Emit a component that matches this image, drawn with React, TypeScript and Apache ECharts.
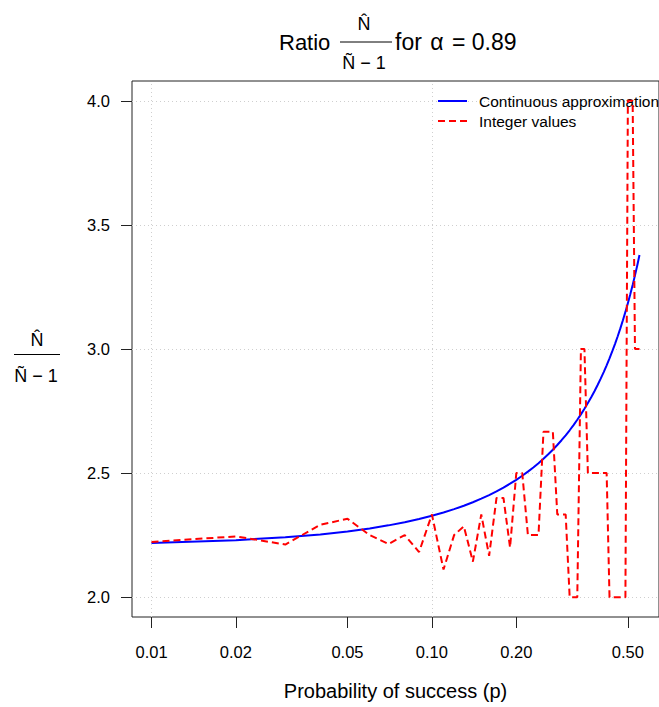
import React, { useEffect, useRef } from "react";
import * as echarts from "echarts";

// Probability of success (x, log scale)
const pValues = [
  0.01, 0.02, 0.03, 0.04, 0.05, 0.06, 0.07, 0.08, 0.09, 0.1,
  0.11, 0.12, 0.13, 0.14, 0.15, 0.16, 0.17, 0.18, 0.19, 0.2,
  0.21, 0.22, 0.23, 0.24, 0.25, 0.26, 0.27, 0.28, 0.29, 0.3,
  0.31, 0.32, 0.33, 0.34, 0.35, 0.36, 0.37, 0.38, 0.39, 0.4,
  0.41, 0.42, 0.43, 0.44, 0.45, 0.46, 0.47, 0.48, 0.49, 0.5,
  0.51, 0.52, 0.53, 0.54, 0.55,
];

// Continuous approximation (blue)
const continuousRatio = [
  2.2184, 2.2297, 2.2412, 2.2529, 2.2649, 2.277, 2.2893, 2.3019, 2.3147, 2.3277,
  2.341, 2.3546, 2.3684, 2.3824, 2.3968, 2.4114, 2.4263, 2.4416, 2.4571, 2.4729,
  2.4891, 2.5057, 2.5226, 2.5399, 2.5575, 2.5756, 2.5941, 2.613, 2.6324, 2.6522,
  2.6725, 2.6933, 2.7147, 2.7366, 2.759, 2.782, 2.8057, 2.83, 2.855, 2.8806,
  2.9071, 2.9343, 2.9623, 2.9911, 3.0208, 3.0515, 3.0831, 3.1158, 3.1495, 3.1844,
  3.2205, 3.2579, 3.2967, 3.3368, 3.3785,
];

// Integer values (red dashed)
const integerRatio = [
  2.2222, 2.2449, 2.2121, 2.2917, 2.3158, 2.25, 2.2143, 2.25, 2.1818, 2.3333,
  2.1111, 2.25, 2.2857, 2.1429, 2.3333, 2.1667, 2.4, 2.4, 2.2, 2.5,
  2.5, 2.25, 2.25, 2.25, 2.6667, 2.6667, 2.6667, 2.3333, 2.3333, 2.3333,
  2.0, 2.0, 2.0, 3.0, 3.0, 2.5, 2.5, 2.5, 2.5, 2.5,
  2.5, 2.5, 2.0, 2.0, 2.0, 2.0, 2.0, 2.0, 2.0, 4.0,
  4.0, 4.0, 3.0, 3.0, 3.0,
];

const xTickValues = [0.01, 0.02, 0.05, 0.1, 0.2, 0.5];
const xTickLabels = ["0.01", "0.02", "0.05", "0.10", "0.20", "0.50"];
const xGridValues = [0.01, 0.1];
const yTickValues = [2.0, 2.5, 3.0, 3.5, 4.0];
const yTickLabels = ["2.0", "2.5", "3.0", "3.5", "4.0"];

const seriesNames = ["Continuous approximation", "Integer values"];

const FONT = "'Liberation Sans', Arial, sans-serif";

export default function App() {
  const ref = useRef<HTMLDivElement>(null);

  useEffect(() => {
    if (!ref.current) return;
    const chart = echarts.init(ref.current, undefined, { renderer: "svg" });

    const lx = pValues.map((p) => Math.log10(p));
    const dataMin = Math.min(...lx);
    const dataMax = Math.max(...lx);
    const pad = (dataMax - dataMin) * 0.04;
    const yMin = 2.0 - 0.08;
    const yMax = 4.0 + 0.08;

    const xTickLog = xTickValues.map((v) => Math.log10(v));

    const nearestLabel = (v: number, vals: number[], labels: string[]) => {
      let best = 0;
      for (let i = 1; i < vals.length; i++) {
        if (Math.abs(vals[i] - v) < Math.abs(vals[best] - v)) best = i;
      }
      return labels[best];
    };

    const gridLineStyle = { color: "#cfcfcf", width: 1, type: [1, 3] as any };

    const option: any = {
      animation: false,
      backgroundColor: "#ffffff",
      textStyle: { fontFamily: FONT },
      grid: {
        left: 132,
        top: 81,
        right: -6,
        bottom: 90,
        show: true,
        borderColor: "#222222",
        borderWidth: 1,
        backgroundColor: "transparent",
      },
      legend: {
        data: seriesNames,
        orient: "vertical",
        left: 437,
        top: 91,
        padding: 0,
        itemGap: 0,
        itemWidth: 29,
        itemHeight: 12,
        itemStyle: { opacity: 0 },
        textStyle: {
          fontFamily: FONT,
          fontSize: 15.5,
          color: "#000000",
          lineHeight: 20,
          padding: [0, 0, 0, 7],
        },
      },
      xAxis: {
        type: "value",
        min: dataMin - pad,
        max: dataMax + pad,
        axisLine: { show: false, onZero: false },
        axisTick: {
          show: true,
          length: 11,
          customValues: xTickLog,
          lineStyle: { color: "#222222", width: 1 },
        },
        axisLabel: {
          customValues: xTickLog,
          margin: 26,
          fontSize: 16.5,
          fontFamily: FONT,
          color: "#000000",
          formatter: (v: number) => nearestLabel(v, xTickLog, xTickLabels),
        },
        splitLine: { show: false },
        name: "Probability of success (p)",
        nameLocation: "middle",
        nameGap: 64,
        nameTextStyle: { fontSize: 20, fontFamily: FONT, color: "#000000" },
      },
      yAxis: {
        type: "value",
        min: yMin,
        max: yMax,
        axisLine: { show: false, onZero: false },
        axisTick: {
          show: true,
          length: 11,
          customValues: yTickValues,
          lineStyle: { color: "#222222", width: 1 },
        },
        axisLabel: {
          customValues: yTickValues,
          margin: 22,
          fontSize: 16.5,
          fontFamily: FONT,
          color: "#000000",
          formatter: (v: number) => nearestLabel(v, yTickValues, yTickLabels),
        },
        splitLine: { show: false },
      },
      series: [
        {
          name: seriesNames[0],
          type: "line",
          data: lx.map((x, i) => [x, continuousRatio[i]]),
          symbol: "none",
          lineStyle: { color: "#0000ff", width: 2 },
          itemStyle: { color: "#0000ff" },
          z: 3,
          markLine: {
            silent: true,
            symbol: ["none", "none"],
            label: { show: false },
            z: 1,
            lineStyle: gridLineStyle,
            data: [
              ...xGridValues.map((v) => ({ xAxis: Math.log10(v), lineStyle: gridLineStyle })),
              ...yTickValues.map((v) => ({ yAxis: v, lineStyle: gridLineStyle })),
            ],
          },
        },
        {
          name: seriesNames[1],
          type: "line",
          data: lx.map((x, i) => [x, integerRatio[i]]),
          symbol: "none",
          lineStyle: { color: "#ff0000", width: 2, type: [7, 4] },
          itemStyle: { color: "#ff0000" },
          z: 4,
        },
      ],
      graphic: [
        // Title
        {
          type: "text",
          x: 279,
          y: 42,
          style: { text: "Ratio", fontSize: 22, fontFamily: FONT, fill: "#000", align: "left", verticalAlign: "middle" },
        },
        {
          type: "text",
          x: 364,
          y: 24,
          style: { text: "N\u0302", fontSize: 18, fontFamily: FONT, fill: "#000", align: "center", verticalAlign: "middle" },
        },
        {
          type: "line",
          shape: { x1: 340, y1: 42, x2: 392, y2: 42 },
          style: { stroke: "#000", lineWidth: 1 },
        },
        {
          type: "text",
          x: 364,
          y: 63,
          style: { text: "\u00D1 \u2212 1", fontSize: 18, fontFamily: FONT, fill: "#000", align: "center", verticalAlign: "middle" },
        },
        {
          type: "text",
          x: 395,
          y: 42,
          style: {
            text: "{t|for }{a|\u03B1}{t| = 0.89}",
            fontSize: 23,
            fontFamily: FONT,
            fill: "#000",
            align: "left",
            verticalAlign: "middle",
            rich: {
              t: { fontSize: 23, fontFamily: FONT, fill: "#000" },
              a: { fontSize: 23, fontFamily: FONT, fill: "#000", padding: [0, 2, 0, 2] },
            },
          },
        },
        // Y axis label
        {
          type: "text",
          x: 37,
          y: 340,
          style: { text: "N\u0302", fontSize: 18, fontFamily: FONT, fill: "#000", align: "center", verticalAlign: "middle" },
        },
        {
          type: "line",
          shape: { x1: 14, y1: 354.5, x2: 60, y2: 354.5 },
          style: { stroke: "#000", lineWidth: 1 },
        },
        {
          type: "text",
          x: 36,
          y: 376,
          style: { text: "\u00D1 \u2212 1", fontSize: 18, fontFamily: FONT, fill: "#000", align: "center", verticalAlign: "middle" },
        },
      ],
    };

    chart.setOption(option);
    return () => chart.dispose();
  }, []);

  return (
    <div
      ref={ref}
      style={{ position: "absolute", left: 0, top: 0, width: 659, height: 707 }}
    />
  );
}
